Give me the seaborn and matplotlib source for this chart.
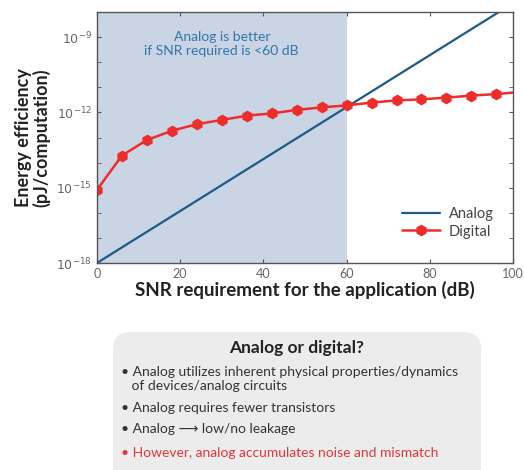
#!/usr/bin/env python3

from matplotlib import pyplot as plt
from matplotlib.patches import FancyBboxPatch
from matplotlib.ticker import FixedLocator, FuncFormatter, NullFormatter
import numpy as np
import pandas as pd
import seaborn as sns

# Values
snr_analog = [0, 96.6]
log_energy_analog = [-18.0, -8.0]

snr_digital = [0, 6, 12, 18, 24, 30, 36, 42, 48, 54, 60, 66, 72, 78, 84, 90, 96, 100]
log_energy_digital = [
        -15.09, -13.72, -13.10, -12.73, -12.47, -12.30, -12.13, -12.04, -11.90,
        -11.80, -11.72, -11.61, -11.52, -11.48, -11.41, -11.33, -11.27, -11.21,
        ]

x_ticks = [0, 20, 40, 60, 80, 100]
y_ticks = [1e-18, 1e-15, 1e-12, 1e-9]

bullets = [
        ("\u2022 Analog utilizes inherent physical properties/dynamics\n   of devices/analog circuits", "#333333"),
        ("\u2022 Analog requires fewer transistors", "#333333"),
        ("\u2022 Analog \u27f6 low/no leakage", "#333333"),
        ("\u2022 However, analog accumulates noise and mismatch", "#e0353b"),
        ]


def main():
    sns.set_style("ticks")
    plt.rcParams["font.family"] = ["Lato", "DejaVu Sans"]

    df_a = pd.DataFrame({"snr": snr_analog, "e": 10.0 ** np.array(log_energy_analog)})
    df_d = pd.DataFrame({"snr": snr_digital, "e": 10.0 ** np.array(log_energy_digital)})

    fig = plt.figure(figsize=(5.24, 4.70), dpi=100)
    ax = fig.add_axes([0.185, 0.4404, 0.794, 0.534])

    ax.axvspan(0, 60, color="#c9d4e4", zorder=0, lw=0)

    sns.lineplot(data=df_a, x="snr", y="e", ax=ax, color="#1d5a87",
                 lw=1.6, label="Analog")
    sns.lineplot(data=df_d, x="snr", y="e", ax=ax, color="#ee2c2c",
                 lw=1.8, marker="h", markersize=8.5, markeredgewidth=0,
                 markevery=list(range(len(snr_digital) - 1)), label="Digital")

    ax.set_yscale("log")
    ax.set_xlim(0, 100)
    ax.set_ylim(1e-18, 1e-8)
    ax.xaxis.set_major_locator(FixedLocator(x_ticks))
    ax.yaxis.set_major_locator(FixedLocator(y_ticks))
    ax.yaxis.set_minor_locator(FixedLocator([10.0 ** k for k in range(-18, -7)]))
    ax.yaxis.set_minor_formatter(NullFormatter())
    ax.yaxis.set_major_formatter(FuncFormatter(lambda v, p: f"$10^{{{int(round(np.log10(v)))}}}$"))
    ax.tick_params(axis="both", which="both", direction="in", top=True, right=True,
                   labelsize=9, labelcolor="#666666", color="#555555")
    ax.tick_params(which="both", length=3)
    for s in ax.spines.values():
        s.set_color("#555555")
        s.set_linewidth(1.0)

    ax.set_xlabel("SNR requirement for the application (dB)", fontsize=13.5,
                  fontweight="bold", color="#222222", labelpad=1)
    ax.set_ylabel("Energy efficiency\n(pJ/computation)", fontsize=13,
                  fontweight="bold", color="#222222", labelpad=4, linespacing=1.0)

    ax.text(30, 10 ** -9.27, "Analog is better\nif SNR required is <60 dB",
            ha="center", va="center", fontsize=10, color="#3476a6", linespacing=1.25)

    ax.legend(loc="lower right", frameon=False, fontsize=10.5,
              handlelength=2.6, handletextpad=0.6, labelcolor="#444444",
              bbox_to_anchor=(0.985, 0.045), labelspacing=0.25)

    box = FancyBboxPatch((113 / 524, -0.05), (481 - 113) / 524, 0.05 + (470 - 332) / 470,
                         boxstyle="round,pad=0,rounding_size=0.035",
                         transform=fig.transFigure, facecolor="#ececec",
                         edgecolor="none", zorder=0)
    fig.patches.append(box)

    fig.text(297 / 524, 1 - 348 / 470, "Analog or digital?", ha="center",
             va="center", fontsize=12.5, fontweight="bold", color="#222222")
    ys = [379, 408, 429, 453]
    for (txt, col), y in zip(bullets, ys):
        fig.text(121 / 524, 1 - y / 470, txt, ha="left", va="center",
                 fontsize=10, color=col, linespacing=1.2)

    plt.savefig("out.png", dpi=100)


if __name__ == "__main__":
    main()
